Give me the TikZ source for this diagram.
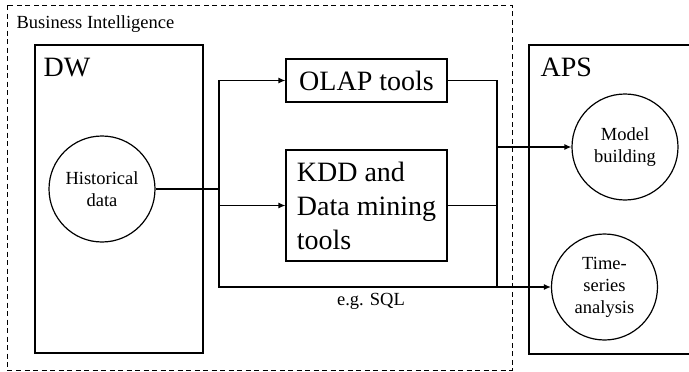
\documentclass[tikz,border=0pt]{standalone}
\usepackage{fontspec}
\setmainfont{Liberation Serif}
\usetikzlibrary{arrows.meta,calc,positioning}
\tikzset{
  bigtxt/.style={font=\fontsize{28}{34}\selectfont},
  smalltxt/.style={font=\fontsize{18.5}{22}\selectfont},
  toolbox/.style={draw,bigtxt,inner sep=0pt},
  blob/.style={draw,circle,minimum size=106pt,inner sep=0pt,align=center,smalltxt}
}
\begin{document}
\begin{tikzpicture}[x=1pt,y=-1pt,>={Latex[length=7pt,width=6pt]},line width=1.2pt]
  \clip (0,0) rectangle (689,372);
  \draw[dash pattern=on 5pt off 3.5pt,line width=0.9pt] (7,5) rectangle (512,370);
  \node[smalltxt,anchor=base west,inner sep=0pt] (bi) at (16,28) {Business Intelligence};
  \draw (35,45) rectangle (203,353);
  \node[bigtxt,anchor=base west,inner sep=0pt] (dw) at (43,76) {DW};
  \draw (529,45) rectangle (700,354);
  \node[bigtxt,anchor=base west,inner sep=0pt] (aps) at (540,76) {APS};
  \node[blob] (hist) at (102,189) {Historical\\data};
  \node[toolbox,minimum width=161pt,minimum height=43pt] (olap) at (366.5,80.5) {OLAP tools};
  \node[toolbox,minimum width=161pt,minimum height=111pt,align=left] (kdd) at (366.5,205.5) {KDD and\\Data mining\\tools};
  \node[blob] (model) at (625,147) {Model\\building};
  \node[blob] (ts) at (604.5,287) {Time-\\series\\analysis};
  \coordinate (jl) at (219,189);
  \coordinate (jr) at (497,147);
  \coordinate (jb) at (497,287);
  \draw (hist) -- (jl);
  \draw[->] (jl) |- (olap);
  \draw[->] (jl) |- (kdd);
  \draw[->] (jl) |- (ts);
  \node[smalltxt,anchor=base,inner sep=0pt] (sql) at (371,305) {e.g. SQL};
  \draw (olap) -| (jb);
  \draw (kdd) -- (kdd -| jb);
  \draw[->] (jr) -- (model);
\end{tikzpicture}
\end{document}
